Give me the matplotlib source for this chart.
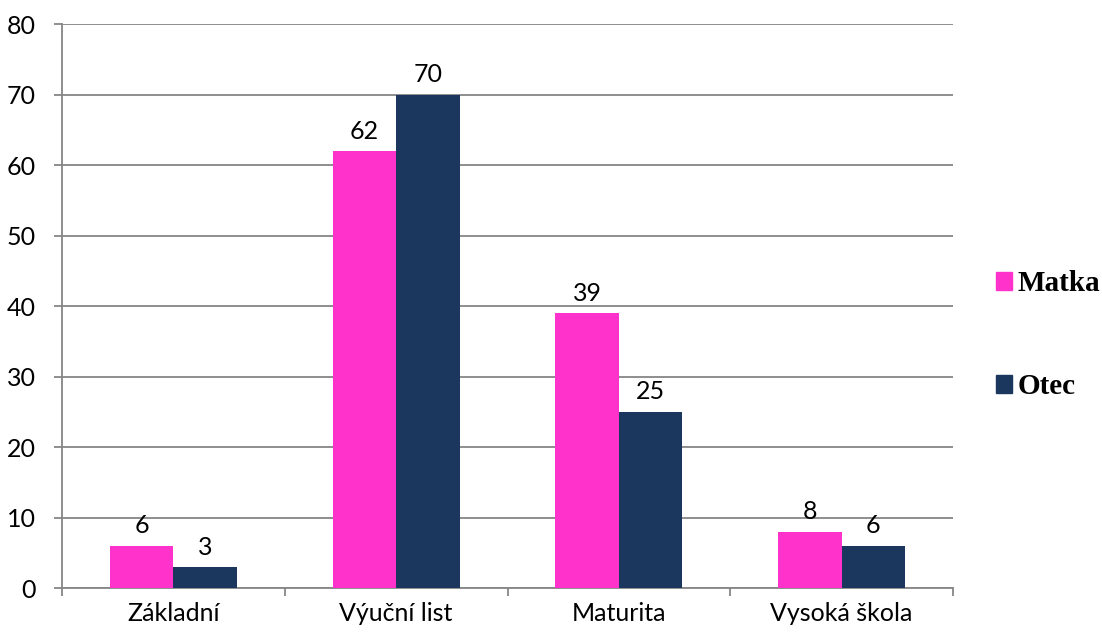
import matplotlib
matplotlib.use("Agg")
import matplotlib.pyplot as plt
import numpy as np
from matplotlib.patches import Patch

# vzdělání rodičů
kategorie = ["Základní", "Výuční list", "Maturita", "Vysoká škola"]
matka = [6, 62, 39, 8]
otec = [3, 70, 25, 6]
serie = ["Matka", "Otec"]
barvy = ["#FF33CC", "#1B375E"]
y_ticks = [0, 10, 20, 30, 40, 50, 60, 70, 80]

plt.rcParams["font.family"] = ["Lato", "DejaVu Sans"]

fig = plt.figure(figsize=(11.02, 6.35), dpi=100)
ax = fig.add_axes([0.0563, 0.074, 0.8085, 0.8882])

x = np.arange(len(kategorie))
w = 0.285
b1 = ax.bar(x - w / 2, matka, w, color=barvy[0], zorder=3)
b2 = ax.bar(x + w / 2, otec, w, color=barvy[1], zorder=3)

for bars, vals in ((b1, matka), (b2, otec)):
    for r, v in zip(bars, vals):
        ax.annotate(str(v), (r.get_x() + r.get_width() / 2, v),
                    xytext=(0, 6), textcoords="offset points",
                    ha="center", va="bottom", fontsize=18, zorder=4)

ax.set_xlim(-0.5, len(kategorie) - 0.5)
ax.set_ylim(0, 80)
ax.set_yticks(y_ticks)
ax.set_xticks(x)
ax.set_xticklabels(kategorie)
ax.set_xticks(np.arange(len(kategorie) + 1) - 0.5, minor=True)

grey = "#868686"
ax.yaxis.grid(True, color=grey, linewidth=1.3, zorder=0)
for s in ("top", "right"):
    ax.spines[s].set_visible(False)
for s in ("left", "bottom"):
    ax.spines[s].set_color(grey)
    ax.spines[s].set_linewidth(1.3)

ax.tick_params(axis="y", length=6, width=1.3, color=grey, pad=13, labelsize=18)
ax.tick_params(axis="x", which="major", length=0, pad=10, labelsize=18)
ax.tick_params(axis="x", which="minor", length=6, width=1.3, color=grey)

handles = [Patch(color=c, label=l) for c, l in zip(barvy, serie)]
fig.legend(handles=handles, loc="center left", bbox_to_anchor=(0.88, 0.472),
           frameon=False, handlelength=0.55, handleheight=0.55, handletextpad=0.18,
           labelspacing=2.6,
           prop={"family": "Liberation Serif", "weight": "bold", "size": 21})

fig.savefig("out.png", dpi=100)
